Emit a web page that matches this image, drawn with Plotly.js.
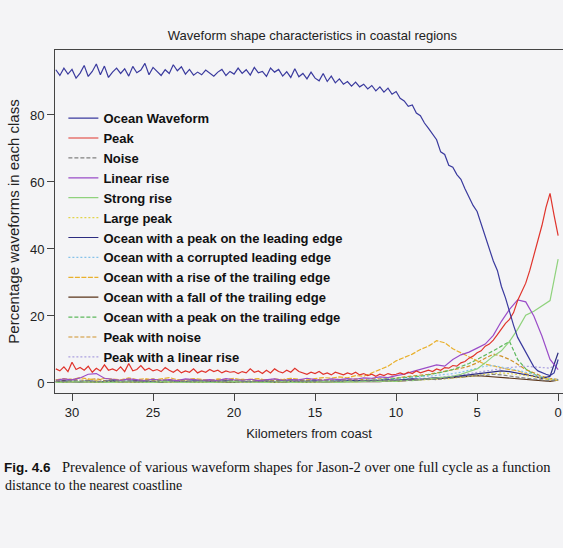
<!DOCTYPE html>
<html>
<head>
<meta charset="utf-8">
<script src="https://cdn.plot.ly/plotly-3.0.1.min.js"></script>
<style>
html,body{margin:0;padding:0;background:#f4f4f6;}
#chart{width:563px;height:548px;}
</style>
</head>
<body>
<div id="chart"></div>
<script>
// Distance from coast (km), fine grid (0.25 km) for the two main series
var kmFine = [];
for (var i = 0; i <= 124; i++) kmFine.push(31 - 0.25 * i);
// Distance from coast (km), coarse grid (0.5 km) for the minor classes
var kmCoarse = [];
for (var j = 0; j <= 62; j++) kmCoarse.push(31 - 0.5 * j);

var oceanWaveform = [
  93.5,91.8,94.0,92.2,93.6,91.0,92.5,94.8,91.5,93.0,
  95.2,92.0,94.6,91.2,92.8,94.0,92.4,93.8,91.6,94.5,
  92.6,93.4,95.4,92.0,94.2,93.0,91.8,93.5,92.4,95.0,
  93.2,94.4,92.2,93.6,91.9,92.8,92.0,93.4,92.5,91.6,
  92.8,93.6,91.8,93.0,92.2,94.0,92.4,93.5,91.9,94.2,
  92.6,93.0,91.5,94.0,92.8,93.6,91.6,92.9,91.2,93.8,
  91.4,92.4,90.8,92.8,91.0,90.2,92.4,90.0,91.6,89.6,
  90.8,89.2,90.0,88.6,89.8,88.4,89.2,87.8,88.8,87.2,
  88.4,86.8,88.0,86.2,87.0,85.0,84.2,82.6,83.0,80.6,
  79.8,77.6,76.0,74.2,72.6,69.0,68.2,65.0,64.4,62.2,
  60.8,58.0,55.6,53.0,51.2,47.6,44.0,40.2,36.4,33.6,
  28.8,25.4,21.0,17.2,13.6,11.4,8.8,6.6,4.8,3.6,
  3.0,2.6,2.2,3.0,7.0
];
var peak = [
  4.2,3.6,4.8,3.4,6.2,4.0,4.6,3.8,5.0,3.2,
  4.4,3.6,5.4,3.8,4.2,3.6,4.8,3.4,5.8,3.6,
  4.0,5.2,3.8,4.4,3.6,4.0,3.4,4.6,3.8,3.2,
  4.0,3.0,3.6,3.2,4.2,3.0,3.6,3.2,4.0,3.4,
  3.8,3.0,3.6,3.2,3.4,2.8,3.4,3.0,4.2,3.2,
  3.6,2.8,3.8,3.0,4.2,3.4,3.0,3.8,3.2,4.4,
  3.4,3.0,2.6,3.2,2.8,3.4,2.6,3.0,2.4,3.2,
  2.8,2.4,3.0,2.6,3.2,2.4,2.8,2.2,2.6,2.0,
  2.6,2.2,2.8,2.4,2.6,3.0,2.6,3.2,2.8,3.6,
  3.0,3.4,3.8,3.4,4.2,3.8,4.6,4.4,5.2,5.0,
  6.0,6.4,7.4,8.0,9.0,9.6,11.0,11.6,12.8,14.4,
  16.0,17.8,19.0,21.0,24.6,27.0,29.8,33.6,37.8,42.0,
  47.0,52.4,56.6,50.0,44.0
];
var noise = [
  0.6,0.4,0.8,0.5,0.7,0.4,0.6,0.9,0.5,0.6,
  0.4,0.7,0.5,0.8,0.6,0.4,0.6,0.5,0.7,0.4,
  0.6,0.5,0.8,0.5,0.6,0.4,0.7,0.5,0.6,0.8,
  0.5,0.6,0.4,0.7,0.6,0.5,0.8,0.6,0.7,0.5,
  0.8,0.6,0.9,0.7,0.8,1.0,1.2,1.0,1.4,1.6,
  1.8,2.0,2.4,2.2,2.6,2.4,2.0,1.8,1.4,1.2,
  0.8,0.6,1.0
];
var linearRise = [
  0.8,1.2,0.9,1.5,2.6,2.8,1.4,1.0,0.8,1.2,
  0.9,0.7,1.1,0.8,1.0,0.7,1.2,0.9,0.8,1.0,
  0.7,1.3,0.9,0.8,1.1,0.7,0.9,1.2,0.8,1.0,
  0.9,1.4,1.0,0.8,1.2,1.0,1.3,1.1,1.5,1.4,
  1.8,1.6,2.2,2.6,3.4,4.0,4.6,5.4,5.0,7.0,
  8.4,9.2,10.4,11.6,14.2,18.4,22.0,24.8,24.2,20.0,
  14.0,7.0,4.0
];
var strongRise = [
  0.2,0.3,0.2,0.4,0.3,0.2,0.3,0.2,0.4,0.3,
  0.2,0.3,0.2,0.3,0.4,0.2,0.3,0.2,0.3,0.2,
  0.3,0.2,0.4,0.3,0.2,0.3,0.2,0.3,0.4,0.2,
  0.3,0.2,0.3,0.4,0.3,0.2,0.4,0.3,0.5,0.4,
  0.5,0.6,0.5,0.8,0.7,1.0,1.2,1.4,1.6,2.0,
  2.6,3.4,4.2,6.0,8.0,9.6,12.4,16.0,20.2,21.4,
  23.0,24.6,37.0
];
var largePeak = [
  0.3,0.2,0.4,0.3,0.2,0.3,0.4,0.2,0.3,0.2,
  0.3,0.2,0.3,0.4,0.2,0.3,0.2,0.3,0.2,0.3,
  0.2,0.3,0.4,0.2,0.3,0.2,0.3,0.2,0.4,0.3,
  0.2,0.3,0.2,0.4,0.3,0.3,0.4,0.3,0.5,0.4,
  0.5,0.6,0.5,0.7,0.8,0.7,0.9,1.0,1.2,1.4,
  1.6,1.8,2.2,2.6,2.8,3.0,2.8,2.6,2.2,1.8,
  1.4,1.0,0.8
];
var peakLeading = [
  0.4,0.6,0.5,0.3,0.6,0.4,0.5,0.7,0.4,0.5,
  0.6,0.4,0.5,0.3,0.6,0.5,0.4,0.6,0.5,0.4,
  0.5,0.6,0.4,0.5,0.3,0.6,0.5,0.4,0.6,0.5,
  0.4,0.5,0.6,0.4,0.5,0.6,0.5,0.7,0.6,0.8,
  0.7,0.9,0.8,1.0,1.2,1.1,1.4,1.6,1.5,1.8,
  2.0,2.4,2.6,3.0,3.2,3.6,3.4,3.0,2.6,2.0,
  1.4,2.0,9.0
];
var corruptedLeading = [
  0.3,0.5,0.4,0.6,0.3,0.5,0.4,0.3,0.6,0.4,
  0.5,0.3,0.4,0.6,0.4,0.5,0.3,0.4,0.5,0.3,
  0.4,0.6,0.3,0.5,0.4,0.3,0.5,0.4,0.6,0.4,
  0.5,0.4,0.6,0.5,0.7,0.6,0.8,0.7,0.9,0.8,
  1.0,1.2,1.1,1.4,1.6,1.8,2.0,2.2,2.6,2.8,
  3.2,3.8,4.4,5.0,5.2,4.8,4.4,3.8,3.2,2.6,
  1.8,1.2,1.0
];
var riseTrailing = [
  0.9,1.3,1.0,1.6,1.2,0.8,1.4,1.1,0.9,1.5,
  1.0,1.3,0.8,1.2,1.6,1.0,0.9,1.3,1.1,0.8,
  1.2,1.0,1.4,0.9,1.1,1.3,0.8,1.2,1.0,1.4,
  1.1,0.9,1.3,1.6,1.4,1.8,1.5,2.2,2.0,3.0,
  4.0,5.0,6.6,7.6,8.6,10.0,11.0,12.6,12.0,10.2,
  9.0,7.6,6.6,5.6,5.0,4.6,4.0,3.6,2.8,2.0,
  1.5,1.0,0.8
];
var fallTrailing = [
  0.3,0.2,0.4,0.3,0.2,0.3,0.2,0.4,0.3,0.2,
  0.3,0.2,0.3,0.2,0.4,0.3,0.2,0.3,0.2,0.3,
  0.2,0.3,0.2,0.4,0.3,0.2,0.3,0.2,0.3,0.2,
  0.3,0.2,0.4,0.3,0.2,0.3,0.4,0.3,0.4,0.5,
  0.4,0.6,0.5,0.7,0.8,0.9,1.0,1.2,1.4,1.6,
  1.8,2.0,2.2,2.0,1.8,1.6,1.4,1.2,1.0,0.8,
  0.6,0.5,0.8
];
var peakTrailing = [
  0.5,0.3,0.6,0.4,0.5,0.3,0.4,0.6,0.3,0.5,
  0.4,0.3,0.5,0.4,0.3,0.5,0.4,0.3,0.5,0.4,
  0.3,0.5,0.4,0.3,0.4,0.5,0.3,0.4,0.5,0.3,
  0.4,0.5,0.3,0.5,0.4,0.6,0.5,0.7,0.6,0.8,
  0.9,1.0,1.2,1.4,1.6,2.0,2.4,2.8,3.4,4.0,
  4.8,5.8,7.0,8.2,9.6,11.0,12.4,7.0,4.2,2.6,
  1.6,1.0,0.8
];
var peakNoise = [
  1.0,0.7,1.2,0.8,0.9,1.3,0.7,1.0,0.8,1.1,
  0.7,0.9,1.2,0.8,1.0,0.7,0.9,1.1,0.8,0.7,
  1.0,0.8,0.7,1.1,0.9,0.8,1.0,0.7,0.9,1.2,
  0.8,0.7,1.0,0.9,0.8,1.1,0.9,1.2,1.0,1.3,
  1.2,1.5,1.4,1.8,2.0,2.4,2.6,3.0,3.4,3.8,
  4.4,5.0,6.0,7.4,8.6,8.0,7.0,5.6,4.0,3.0,
  2.0,1.4,1.0
];
var peakLinear = [
  0.2,0.3,0.2,0.3,0.2,0.4,0.3,0.2,0.3,0.2,
  0.3,0.2,0.2,0.3,0.2,0.3,0.2,0.3,0.2,0.3,
  0.2,0.3,0.2,0.2,0.3,0.2,0.3,0.2,0.3,0.2,
  0.3,0.2,0.3,0.3,0.4,0.3,0.4,0.5,0.4,0.5,
  0.6,0.7,0.8,0.9,1.0,1.2,1.4,1.6,1.8,2.0,
  2.4,2.8,3.2,3.6,4.0,4.4,4.6,4.8,5.0,4.8,
  4.6,4.4,6.0
];

var classNames = [
  "Ocean Waveform","Peak","Noise","Linear rise","Strong rise","Large peak",
  "Ocean with a peak on the leading edge","Ocean with a corrupted leading edge",
  "Ocean with a rise of the trailing edge","Ocean with a fall of the trailing edge",
  "Ocean with a peak on the trailing edge","Peak with noise","Peak with a linear rise"
];
var classValues = [oceanWaveform, peak, noise, linearRise, strongRise, largePeak,
  peakLeading, corruptedLeading, riseTrailing, fallTrailing, peakTrailing, peakNoise, peakLinear];
var classX = [kmFine, kmFine, kmCoarse, kmCoarse, kmCoarse, kmCoarse, kmCoarse,
  kmCoarse, kmCoarse, kmCoarse, kmCoarse, kmCoarse, kmCoarse];
var classColors = ["#3a3a9e","#e0342c","#808080","#9a4cc8","#8fd27c","#e2d44a",
  "#2c2c80","#86c2ea","#e9b02c","#5a3418","#5cb85c","#cf922a","#aaa0e0"];
var classDash = ["solid","solid","4px,2px","solid","solid","2px,2px","solid","2px,2px",
  "5px,1.5px","solid","4px,2px","4px,2px","2px,2px"];

var traces = [];
for (var k = classNames.length - 1; k >= 0; k--) {
  traces.push({
    type: "scatter", mode: "lines",
    x: classX[k], y: classValues[k], name: classNames[k],
    line: {color: classColors[k], width: 1.2, dash: classDash[k]}
  });
}

var layout = {
  width: 563, height: 548,
  paper_bgcolor: "#f4f4f6", plot_bgcolor: "#f4f4f6",
  margin: {l: 55, r: 0, t: 50, b: 155},
  font: {family: "Liberation Sans, Arial, sans-serif", color: "#222", size: 13},
  title: {text: "Waveform shape characteristics in coastal regions",
    font: {size: 13, color: "#222"}, x: 0.555, xanchor: "center",
    y: 1 - 35 / 548, yanchor: "middle", yref: "container"},
  showlegend: true,
  legend: {
    traceorder: "reversed",
    x: 0.0165, xanchor: "left", y: 0.845, yanchor: "top",
    bgcolor: "rgba(0,0,0,0)", borderwidth: 0,
    font: {size: 13, weight: "bold", color: "#111"},
    itemwidth: 30, tracegroupgap: 0
  },
  xaxis: {
    range: [31.05, -0.3], tickvals: [30,25,20,15,10,5,0],
    ticks: "outside", ticklen: 7, tickcolor: "#444",
    showline: true, linecolor: "#444", linewidth: 1, mirror: true,
    showgrid: false, zeroline: false,
    tickfont: {size: 13, color: "#222"},
    title: {text: "Kilometers from coast", font: {size: 13, color: "#222"}, standoff: 10}
  },
  yaxis: {
    range: [-3, 99.4], tickvals: [0,20,40,60,80],
    ticks: "outside", ticklen: 7, tickcolor: "#444",
    showline: true, linecolor: "#444", linewidth: 1, mirror: false,
    showgrid: false, zeroline: false,
    tickfont: {size: 13, color: "#222"},
    title: {text: "Percentage waveforms in each class", font: {size: 15, color: "#222"}, standoff: 6}
  },
  annotations: [
    {xref: "paper", yref: "paper", x: -(55-2)/508, y: -(467-393)/343, xanchor: "left", yanchor: "middle",
     showarrow: false, align: "left",
     text: "<b>Fig. 4.6</b>",
     font: {family: "Liberation Sans, Arial, sans-serif", size: 13.5, color: "#111"}},
    {xref: "paper", yref: "paper", x: -(55-60)/508, y: -(467-393)/343, xanchor: "left", yanchor: "middle",
     showarrow: false, align: "left",
     text: "Prevalence of various waveform shapes for Jason-2 over one full cycle as a function",
     font: {family: "Liberation Serif, Times New Roman, serif", size: 14.5, color: "#111"}},
    {xref: "paper", yref: "paper", x: -(55-3)/508, y: -(485-393)/343, xanchor: "left", yanchor: "middle",
     showarrow: false, align: "left",
     text: "distance to the nearest coastline",
     font: {family: "Liberation Serif, Times New Roman, serif", size: 14, color: "#111"}}
  ]
};

Plotly.newPlot("chart", traces, layout, {displayModeBar: false, staticPlot: true});
</script>
</body>
</html>
